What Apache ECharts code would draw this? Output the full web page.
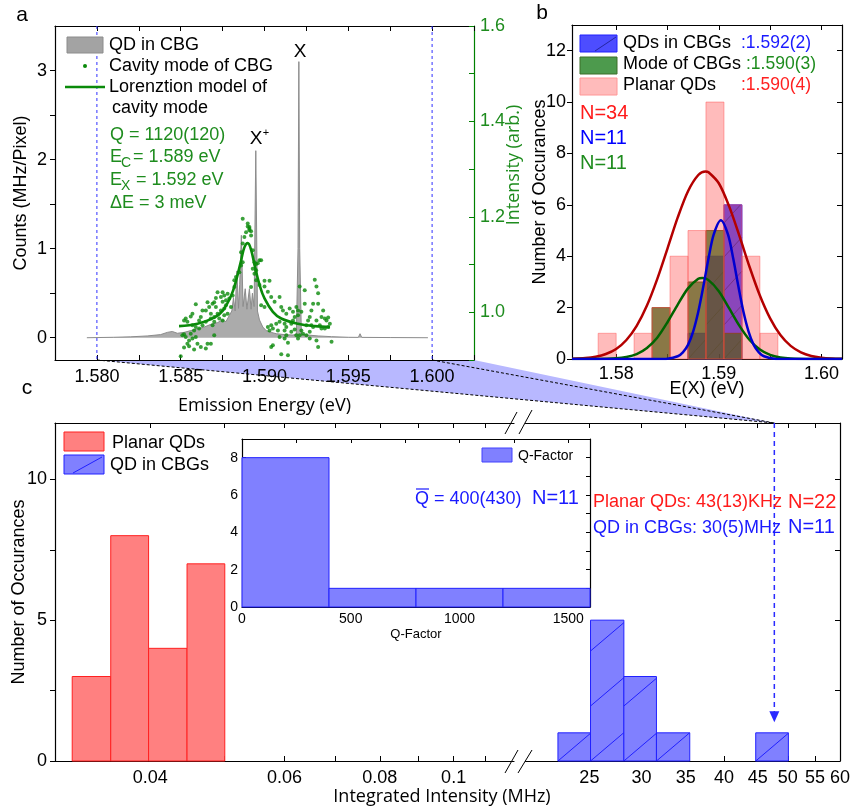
<!DOCTYPE html>
<html><head><meta charset="utf-8">
<script src="https://cdn.jsdelivr.net/npm/echarts@6/dist/echarts.min.js"></script>
<style>html,body{margin:0;padding:0;background:#fff}#c{width:852px;height:811px}</style>
</head><body><div id="c"></div>
<script>
// ---------------- DATA ----------------
// Panel a: QD spectrum (left axis, MHz/Pixel)
const specEnergy = [1.5794,1.5810,1.5820,1.5830,1.5838,1.5842,1.5845,1.5848,1.5852,1.5856,1.5860,1.5864,1.5868,1.5872,1.5875,1.5877,1.5879,1.58805,1.58815,1.58825,1.58835,1.58845,1.58852,1.58862,1.58872,1.58885,1.58895,1.58910,1.58920,1.58928,1.58938,1.58948,1.58958,1.5897,1.5899,1.5901,1.5904,1.5907,1.5912,1.5917,1.5919,1.59200,1.59205,1.59210,1.5922,1.5926,1.5932,1.5940,1.5950,1.5956,1.5957,1.5958,1.5975,1.59975];
const specCounts = [0,0.005,0.01,0.02,0.035,0.06,0.07,0.05,0.06,0.08,0.1,0.12,0.15,0.17,0.2,0.18,0.25,0.3,0.45,0.3,0.75,0.33,0.6,1.15,0.35,0.55,0.32,0.55,0.32,0.5,0.35,2.1,0.3,0.2,0.12,0.08,0.06,0.045,0.035,0.03,0.04,1.0,3.1,1.0,0.04,0.03,0.02,0.012,0.005,0.004,0.045,0.004,0.002,0];
// Panel a: cavity mode points [energy, intensity (arb.)]
const cavityPoints = [
[1.5887,1.196],[1.5890,1.186],[1.5891,1.175],[1.5892,1.170],[1.5889,1.168],[1.5888,1.158],[1.5887,1.144],[1.5886,1.126],[1.5887,1.105],[1.5886,1.098],[1.5885,1.084],[1.5883,1.074],[1.5882,1.067],[1.5893,1.091],[1.5894,1.081],[1.5892,1.053],[1.5895,1.067],[1.5882,1.053],[1.5881,1.035],[1.5878,1.039],[1.5876,1.035],[1.5875,1.042],[1.5874,1.032],[1.5872,1.042],[1.5871,1.030],[1.5870,1.021],[1.5869,1.018],[1.5867,1.011],[1.5865,1.004],[1.5862,0.990],[1.5859,1.017],[1.5857,0.997],[1.5856,0.991],[1.5853,0.987],[1.5852,0.983],[1.5854,0.980],[1.5857,0.973],[1.5859,0.969],[1.5861,0.966],[1.5863,0.973],[1.5865,0.980],[1.5868,0.987],[1.5870,0.990],[1.5872,0.997],[1.5874,1.004],[1.5876,1.008],[1.5877,1.015],[1.5875,1.022],[1.5877,1.025],[1.5879,1.029],[1.5880,1.011],[1.5878,0.997],[1.5876,0.994],[1.5875,0.983],[1.5873,0.987],[1.5870,0.980],[1.5869,0.973],[1.5870,0.952],[1.5868,0.934],[1.5866,0.934],[1.5865,0.924],[1.5862,0.927],[1.5860,0.934],[1.5859,0.948],[1.5857,0.945],[1.5855,0.941],[1.5853,0.948],[1.5852,0.954],[1.5851,0.952],[1.5854,0.934],[1.5852,0.926],[1.5855,0.929],[1.5858,0.922],[1.5850,0.908],[1.5856,0.955],[1.5858,0.962],[1.5868,0.997],[1.5863,1.004],[1.5861,0.983],[1.5866,1.021],[1.5871,1.011],
[1.5898,1.109],[1.5896,1.103],[1.5895,1.101],[1.5900,1.066],[1.5903,1.066],[1.5897,1.057],[1.5900,1.054],[1.5902,1.043],[1.5904,1.032],[1.5898,1.015],[1.5900,1.011],[1.5906,1.022],[1.5909,1.032],[1.5910,1.011],[1.5911,1.004],[1.5915,1.008],[1.5913,0.997],[1.5917,1.001],[1.5919,1.011],[1.5920,1.004],[1.5921,1.054],[1.5924,1.046],[1.5924,1.018],[1.5922,1.001],[1.5920,0.994],[1.5918,0.990],[1.5917,0.983],[1.5916,0.976],[1.5913,0.969],[1.5912,0.976],[1.5909,0.980],[1.5907,0.976],[1.5904,0.973],[1.5902,0.969],[1.5903,0.962],[1.5905,0.966],[1.5908,0.962],[1.5912,0.962],[1.5913,0.952],[1.5912,0.945],[1.5909,0.948],[1.5914,0.936],[1.5916,0.959],[1.5918,0.964],[1.5919,0.952],[1.5920,0.945],[1.5921,0.952],[1.5922,0.962],[1.5923,0.955],[1.5925,0.973],[1.5926,0.983],[1.5927,0.990],[1.5928,1.004],[1.5929,1.018],[1.5930,1.068],[1.5931,1.054],[1.5932,1.040],[1.5932,1.018],[1.5935,1.004],[1.5934,0.990],[1.5936,0.987],[1.5937,0.983],[1.5938,0.989],[1.5939,0.976],[1.5938,0.969],[1.5936,0.966],[1.5934,0.966],[1.5933,0.973],[1.5931,0.983],[1.5929,0.969],[1.5928,0.973],[1.5927,0.959],[1.5925,0.952],[1.5931,0.941],[1.5932,0.927],[1.5927,0.945],[1.5940,0.938],[1.5904,0.927],[1.5905,0.931],[1.5910,0.912],[1.5914,0.910],
[1.5894,1.105],[1.5895,1.088],[1.5897,1.109],[1.5893,1.130],[1.5891,1.172],[1.5892,1.161],[1.5890,1.180],[1.5891,1.179]
];
// Panel a: Lorentzian model of the cavity mode
const lorentzEnergy = [1.5849,1.5860,1.5870,1.5875,1.5880,1.5883,1.5886,1.5888,1.5890,1.5892,1.5894,1.5897,1.5900,1.5905,1.5910,1.5920,1.5930,1.5939];
const lorentzInt    = [0.971,0.976,0.989,1.003,1.034,1.066,1.108,1.136,1.145,1.131,1.100,1.058,1.029,1.001,0.987,0.976,0.971,0.969];
const aTickLabels = [1.580,1.585,1.590,1.595,1.600];
const zoomWindow = [1.580,1.600];

// Panel b: E(X) histograms
const eBinEdges = [1.57825,1.58,1.58175,1.5835,1.58525,1.587,1.58875,1.5905,1.59225,1.594,1.59575];
const planarE   = [1,0,1,2,4,5,10,6,4,1];
const cbgE      = [0,0,0,0,0,1,4,6,0,0];
const modeE     = [0,0,0,2,0,3,5,1,0,0];
// Panel b: Gaussian fits
const redFitE  = [1.5757,1.577,1.578,1.579,1.580,1.581,1.582,1.583,1.584,1.585,1.586,1.587,1.588,1.5887,1.589,1.590,1.591,1.592,1.593,1.594,1.595,1.596,1.597,1.598,1.599,1.600,1.601,1.602];
const redFitN  = [0.011,0.037,0.088,0.194,0.39,0.74,1.29,2.08,3.11,4.30,5.51,6.53,7.16,7.30,7.27,6.84,5.95,4.80,3.58,2.47,1.58,0.93,0.51,0.26,0.12,0.053,0.021,0.008];
const blueFitE = [1.5757,1.584,1.585,1.586,1.5865,1.587,1.5875,1.588,1.5885,1.589,1.5895,1.5902,1.5909,1.5914,1.5919,1.5924,1.5929,1.5934,1.5939,1.5944,1.5954,1.5964,1.602];
const blueFitN = [0,0.001,0.013,0.107,0.26,0.55,1.07,1.84,2.84,3.92,4.84,5.4,4.84,3.92,2.84,1.84,1.07,0.55,0.26,0.107,0.013,0.001,0];
const greenFitE = [1.5757,1.578,1.580,1.581,1.582,1.583,1.584,1.585,1.586,1.587,1.588,1.5884,1.589,1.590,1.591,1.592,1.593,1.594,1.595,1.596,1.597,1.599,1.602];
const greenFitN = [0,0.002,0.025,0.074,0.19,0.43,0.83,1.43,2.12,2.75,3.12,3.15,3.07,2.64,1.98,1.30,0.74,0.37,0.16,0.06,0.02,0.002,0];

// Panel c: integrated intensity histograms
const planarEdges  = [0.0316,0.0355,0.0398,0.0447,0.0501];
const planarCounts = [3,8,4,7];
const cbgEdges     = [22.4,25.1,28.2,31.6,35.5,39.8,44.7,50.1];
const cbgCounts    = [1,5,3,1,0,0,1];
const leftTicks  = [0.04,0.06,0.08,0.1];
const rightTicks = [25,30,35,40,45,50,55,60];
// Inset: Q-factor histogram
const qEdges  = [0,400,800,1200,1600];
const qCounts = [8,1,1,1];
const arrowTarget = 47.7;

// ---------------- HELPERS ----------------
const FONT = "'Liberation Sans', Arial, Helvetica, sans-serif";
const FONT2 = "'Open Sans', 'DejaVu Sans', sans-serif";
function bins(edges, counts){ return counts.map((n,i)=>[edges[i],edges[i+1],n]); }
function pairs(xs, ys){ return xs.map((x,i)=>[x,ys[i]]); }
function hatchLines(x0,yTop,x1,yBot,slope,spacing,color,w){
  const out=[]; const n=Math.ceil(((yBot-yTop)+slope*(x1-x0))/spacing)+1;
  for(let j=0;j<n;j++){
    const c=yBot-j*spacing+slope*x0;
    const xa=Math.max(x0,(c-yBot)/slope), xb=Math.min(x1,(c-yTop)/slope);
    if(xb-xa>0.5) out.push({type:'line',shape:{x1:xa,y1:c-slope*xa,x2:xb,y2:c-slope*xb},style:{stroke:color,lineWidth:w}});
  }
  return out;
}
function histRender(fill, stroke, hatch){
  return function(params, api){
    const x0=api.value(0), x1=api.value(1), n=api.value(2);
    if(!n) return null;
    const p0=api.coord([x0,n]), p1=api.coord([x1,0]);
    const ch=[{type:'rect',shape:{x:p0[0],y:p0[1],width:p1[0]-p0[0],height:p1[1]-p0[1]},style:{fill:fill,stroke:stroke,lineWidth:1}}];
    if(hatch) hatchLines(p0[0],p0[1],p1[0],p1[1],hatch.slope,hatch.spacing,hatch.color,1).forEach(l=>ch.push(l));
    return {type:'group',children:ch};
  };
}
const AX = {
  type:'value', splitLine:{show:false}, nameMoveOverlap:false,
  axisLine:{show:true,onZero:false,lineStyle:{color:'#000',width:1.2}},
  axisTick:{show:true,inside:true,length:5,lineStyle:{color:'#000',width:1}},
  axisLabel:{show:true,color:'#000',fontSize:18,fontFamily:FONT,margin:8,hideOverlap:false},
  nameTextStyle:{color:'#000',fontSize:18,fontFamily:FONT}
};
function mk(o){
  const r=Object.assign({},AX);
  for(const k in o){
    if(o[k]&&typeof o[k]==='object'&&!Array.isArray(o[k])&&AX[k]&&typeof AX[k]==='object') r[k]=Object.assign({},AX[k],o[k]);
    else r[k]=o[k];
  }
  return r;
}
const noLab={show:false};
const fmtLog = v => String(parseFloat(Number(v).toPrecision(3)));

const GREEN='#1e8c1e';
const aTicks=[1.5775,1.58,1.5825,1.585,1.5875,1.59,1.5925,1.595,1.5975,1.6,1.6025];
const bTicks=[1.58,1.585,1.59,1.595,1.60];
const cLeftTickVals=[0.04,0.05,0.06,0.07,0.08,0.09,0.1,0.11];

const option = {
  animation:false, backgroundColor:'#fff', textStyle:{fontFamily:FONT},
  grid:[
    {left:55,top:26,width:419,height:334,containLabel:false,outerBoundsMode:'none'},
    {left:572,top:25,width:270,height:334,containLabel:false,outerBoundsMode:'none'},
    {left:55,top:423,width:459,height:338,containLabel:false,outerBoundsMode:'none'},
    {left:525.5,top:423,width:314.5,height:338,containLabel:false,outerBoundsMode:'none'},
    {left:242,top:439,width:348,height:168,containLabel:false,outerBoundsMode:'none',show:true,backgroundColor:'#fff',borderWidth:0}
  ],
  xAxis:[
    mk({gridIndex:0,position:'bottom',min:1.5775,max:1.6025,interval:0.0025,
        axisLabel:{customValues:aTickLabels,formatter:v=>Number(v).toFixed(3)},axisTick:{customValues:aTicks},
        name:'Emission Energy (eV)',nameLocation:'middle',nameGap:37,nameTextStyle:{fontFamily:FONT2,fontSize:18,color:'#000'}}),
    mk({gridIndex:0,position:'top',min:1.5775,max:1.6025,interval:0.0025,axisLabel:noLab,axisTick:{customValues:aTicks}}),
    mk({gridIndex:1,position:'bottom',min:1.5757,max:1.602,
        axisLabel:{customValues:[1.58,1.59,1.60],formatter:v=>Number(v).toFixed(2),margin:6},axisTick:{customValues:bTicks},
        name:'E(X) (eV)',nameLocation:'middle',nameGap:21}),
    mk({gridIndex:1,position:'top',min:1.5757,max:1.602,axisLabel:noLab,axisTick:{customValues:bTicks}}),
    mk({gridIndex:2,type:'log',logBase:10,position:'bottom',min:0.03,max:0.12,
        axisLabel:{customValues:leftTicks,formatter:fmtLog},axisTick:{customValues:cLeftTickVals}}),
    mk({gridIndex:2,type:'log',logBase:10,position:'top',min:0.03,max:0.12,axisLabel:noLab,axisTick:{customValues:cLeftTickVals}}),
    mk({gridIndex:3,type:'log',logBase:10,position:'bottom',min:20,max:60,
        axisLabel:{customValues:rightTicks,formatter:fmtLog},axisTick:{customValues:rightTicks}}),
    mk({gridIndex:3,type:'log',logBase:10,position:'top',min:20,max:60,axisLabel:noLab,axisTick:{customValues:rightTicks}}),
    mk({gridIndex:4,position:'bottom',min:0,max:1600,interval:250,
        axisLabel:{customValues:[0,500,1000,1500],fontSize:14,margin:5,formatter:v=>String(v)},axisTick:{length:4},
        name:'Q-Factor',nameLocation:'middle',nameGap:21,nameTextStyle:{fontSize:13}}),
    mk({gridIndex:4,position:'top',min:0,max:1600,interval:250,axisLabel:noLab,axisTick:{length:4}})
  ],
  yAxis:[
    mk({gridIndex:0,position:'left',min:-0.25,max:3.5,interval:0.25,
        axisLabel:{customValues:[0,1,2,3]},axisTick:{inside:false,customValues:[0,0.5,1,1.5,2,2.5,3]},
        name:'Counts (MHz/Pixel)',nameLocation:'middle',nameGap:25}),
    mk({gridIndex:0,position:'right',min:0.9,max:1.6,interval:0.1,
        axisLine:{lineStyle:{color:'#008000',width:1.2}},axisTick:{lineStyle:{color:'#008000'}},
        axisLabel:{customValues:[1.0,1.2,1.4,1.6],formatter:v=>Number(v).toFixed(1),color:GREEN,margin:6}}),
    mk({gridIndex:1,position:'left',min:0,max:13,interval:1,
        axisLabel:{customValues:[0,2,4,6,8,10,12],margin:6},axisTick:{inside:false,customValues:[0,2,4,6,8,10,12]},
        name:'Number of Occurances',nameLocation:'middle',nameGap:23}),
    mk({gridIndex:1,position:'right',min:0,max:13,interval:1,axisLabel:noLab,axisTick:{customValues:[0,2,4,6,8,10,12]}}),
    mk({gridIndex:2,position:'left',min:0,max:12,interval:2.5,
        axisLabel:{customValues:[0,5,10]},axisTick:{inside:false,customValues:[0,2.5,5,7.5,10]},
        name:'Number of Occurances',nameLocation:'middle',nameGap:27}),
    mk({gridIndex:3,position:'right',min:0,max:12,interval:2.5,axisLabel:noLab,axisTick:{customValues:[0,2.5,5,7.5,10]}}),
    mk({gridIndex:4,position:'left',min:0,max:9,interval:1,
        axisLabel:{customValues:[0,2,4,6,8],fontSize:14,margin:4},axisTick:{length:4,customValues:[0,1,2,3,4,5,6,7,8]}}),
    mk({gridIndex:4,position:'right',min:0,max:9,interval:1,axisLabel:noLab,axisTick:{length:4,customValues:[0,1,2,3,4,5,6,7,8]}})
  ],
  series:[
    {type:'line',xAxisIndex:0,yAxisIndex:0,data:pairs(specEnergy,specCounts),showSymbol:false,symbol:'none',
     lineStyle:{color:'#8c8c8c',width:1},areaStyle:{color:'#ababab',opacity:1},z:2},
    {type:'scatter',xAxisIndex:0,yAxisIndex:1,data:cavityPoints,symbol:'circle',symbolSize:4,itemStyle:{color:'#0a8a0a'},z:3},
    {type:'line',xAxisIndex:0,yAxisIndex:1,data:pairs(lorentzEnergy,lorentzInt),smooth:0.4,showSymbol:false,symbol:'none',
     lineStyle:{color:'#0a8a0a',width:2.6},z:4},
    // panel b histograms
    {type:'custom',xAxisIndex:2,yAxisIndex:2,data:bins(eBinEdges,cbgE),encode:{x:[0,1],y:2},
     renderItem:histRender('rgba(0,0,255,0.7)','#2020ff',{slope:1.1,spacing:34,color:'rgba(20,20,120,0.6)'}),z:2},
    {type:'custom',xAxisIndex:2,yAxisIndex:2,data:bins(eBinEdges,modeE),encode:{x:[0,1],y:2},
     renderItem:histRender('rgba(0,110,0,0.7)','rgba(80,70,0,0.8)',null),z:2},
    {type:'custom',xAxisIndex:2,yAxisIndex:2,data:bins(eBinEdges,planarE),encode:{x:[0,1],y:2},
     renderItem:histRender('rgba(255,60,60,0.35)','rgba(255,90,90,0.5)',null),z:2},
    {type:'line',xAxisIndex:2,yAxisIndex:2,data:pairs(redFitE,redFitN),smooth:0.3,showSymbol:false,symbol:'none',lineStyle:{color:'#b40000',width:2.5},z:4},
    {type:'line',xAxisIndex:2,yAxisIndex:2,data:pairs(greenFitE,greenFitN),smooth:0.3,showSymbol:false,symbol:'none',lineStyle:{color:'#006400',width:2.5},z:4},
    {type:'line',xAxisIndex:2,yAxisIndex:2,data:pairs(blueFitE,blueFitN),smooth:0.3,showSymbol:false,symbol:'none',lineStyle:{color:'#0000d0',width:2.5},z:4},
    // panel c
    {type:'custom',xAxisIndex:4,yAxisIndex:4,data:bins(planarEdges,planarCounts),encode:{x:[0,1],y:2},
     renderItem:histRender('#ff8080','#ff2020',null),z:2},
    {type:'custom',xAxisIndex:6,yAxisIndex:5,data:bins(cbgEdges,cbgCounts),encode:{x:[0,1],y:2},
     renderItem:histRender('#8080ff','#2020ff',{slope:0.85,spacing:55,color:'#2020ff'}),z:2},
    // inset
    {type:'custom',xAxisIndex:8,yAxisIndex:6,data:bins(qEdges,qCounts),encode:{x:[0,1],y:2},
     renderItem:histRender('#8080ff','#2020ff',null),z:6}
  ]
};

const chart = echarts.init(document.getElementById('c'), null, {renderer:'canvas'});
chart.setOption(option);

// ---------------- ANNOTATIONS ----------------
function T(x,y,text,o){
  o=o||{};
  return {type:'text',x:x,y:y,rotation:o.rot||0,z:o.z||20,silent:true,
    style:{text:text,fill:o.color||'#000',fontSize:o.size||18,fontFamily:o.font||FONT,
      textAlign:o.align||'left',align:o.align||'left',textVerticalAlign:'middle',verticalAlign:'middle'}};
}
function R(x,y,w,h,fill,stroke){return {type:'rect',z:20,silent:true,shape:{x:x,y:y,width:w,height:h},style:{fill:fill,stroke:stroke,lineWidth:1}};}
function L(x1,y1,x2,y2,stroke,w,dash,z){return {type:'line',z:z||20,silent:true,shape:{x1:x1,y1:y1,x2:x2,y2:y2},style:{stroke:stroke,lineWidth:w||1,lineDash:dash||null}};}

const pa0 = chart.convertToPixel({xAxisIndex:0,yAxisIndex:0},[zoomWindow[0],-0.25]);
const pa1 = chart.convertToPixel({xAxisIndex:0,yAxisIndex:0},[zoomWindow[1],-0.25]);
const pa0t = chart.convertToPixel({xAxisIndex:0,yAxisIndex:0},[zoomWindow[0],3.5]);
const pa1t = chart.convertToPixel({xAxisIndex:0,yAxisIndex:0},[zoomWindow[1],3.5]);
const paR = chart.convertToPixel({xAxisIndex:0,yAxisIndex:0},[1.6025,-0.25]);
const pcTop = chart.convertToPixel({xAxisIndex:6,yAxisIndex:5},[arrowTarget,12]);
const pcTip = chart.convertToPixel({xAxisIndex:6,yAxisIndex:5},[arrowTarget,1.38]);

const G = [];
// zoom window markers in panel a
G.push(L(pa0t[0],pa0t[1],pa0[0],pa0[1],'#3030ff',1,[3,3],10));
G.push(L(pa1t[0],pa1t[1],pa1[0],pa1[1],'#3030ff',1,[3,3],10));
// zoom wedge between a and c
G.push({type:'polygon',z:-1,silent:true,shape:{points:[[pa0[0],pa0[1]],[paR[0],paR[1]],[pcTop[0],pcTop[1]]]},style:{fill:'#b8b8ff'}});
G.push(L(pa0[0],pa0[1],pcTop[0],pcTop[1],'#000',1,[3,2],1));
G.push(L(pa1[0],pa1[1],pcTop[0],pcTop[1],'#000',1,[3,2],1));
// arrow in c
G.push(L(pcTop[0],pcTop[1],pcTop[0],pcTip[1]-9,'#2a2aff',1.5,[5,4]));
G.push({type:'polygon',z:20,silent:true,shape:{points:[[pcTop[0]-5,pcTip[1]-11],[pcTop[0]+5,pcTip[1]-11],[pcTop[0],pcTip[1]]]},style:{fill:'#2a2aff'}});
// panel letters
G.push(T(22,15,'a',{size:21,align:'center'}));
G.push(T(542,13,'b',{size:21,align:'center'}));
G.push(T(27,388,'c',{size:21,align:'center'}));
// panel a legend
G.push(R(67,37,36,16,'#a3a3a3','#8c8c8c'));
G.push(T(109,45,'QD in CBG'));
G.push({type:'circle',z:20,silent:true,shape:{cx:85,cy:66,r:2},style:{fill:'#0a8a0a'}});
G.push(T(109,66,'Cavity mode of CBG'));
G.push(L(65,87,105,87,'#0a8a0a',2.6));
G.push(T(109,87,'Lorenztion model of'));
G.push(T(112,108,'cavity mode'));
G.push(T(110,135,'Q = 1120(120)',{color:GREEN}));
G.push(T(110,157,'E',{color:GREEN}));
G.push(T(121,163,'C',{color:GREEN,size:14}));
G.push(T(133,157,'= 1.589 eV',{color:GREEN}));
G.push(T(110,180,'E',{color:GREEN}));
G.push(T(121,186,'X',{color:GREEN,size:14}));
G.push(T(136,180,'= 1.592 eV',{color:GREEN}));
G.push(T(110,203,'\u0394E = 3 meV',{color:GREEN}));
G.push(T(300,52,'X',{size:19,align:'center'}));
G.push(T(256,139,'X',{size:19,align:'center'}));
G.push(T(266,133,'+',{size:11,align:'center'}));
G.push(T(514,165,'Intensity (arb.)',{rot:Math.PI/2,color:GREEN,font:FONT2,size:18,align:'center'}));
// panel b legend
G.push(R(580,35,37,17,'rgb(77,77,255)','#2020ff'));
G.push(L(595,51,616,37,'rgba(20,20,120,0.7)',1));
G.push(T(623,43.5,'QDs in CBGs'));
G.push(T(741,43.5,':1.592(2)',{color:'#1a1aff',size:17.5}));
G.push(R(580,57,37,17,'rgb(77,154,77)','rgb(60,110,40)'));
G.push(T(623,64.5,'Mode of CBGs'));
G.push(T(746,64.5,':1.590(3)',{color:GREEN,size:17.5}));
G.push(R(580,78,37,17,'rgb(255,187,187)','rgb(255,150,150)'));
G.push(T(623,85.5,'Planar QDs'));
G.push(T(741,85.5,':1.590(4)',{color:'#ff2020',size:17.5}));
G.push(T(580,113,'N=34',{color:'#ff1a1a',size:20}));
G.push(T(580,138,'N=11',{color:'#0000ff',size:20}));
G.push(T(580,163,'N=11',{color:GREEN,size:20}));
// panel c legend & texts
G.push(R(64,432,40,19,'#ff8080','#ff2020'));
G.push(T(112,443,'Planar QDs'));
G.push(R(64,455,40,19,'#8080ff','#2020ff'));
G.push(L(73,473,102,457,'#2020ff',1));
G.push(T(110,465,'QD in CBGs'));
G.push(T(593,502,'Planar QDs: 43(13)KHz',{color:'#ff1a1a',size:18}));
G.push(T(788,502,'N=22',{color:'#ff1a1a',size:20}));
G.push(T(593,528,'QD in CBGs: 30(5)MHz',{color:'#1a1aff',size:18}));
G.push(T(788,527,'N=11',{color:'#1a1aff',size:20}));
G.push(T(442,797,'Integrated Intensity (MHz)',{font:FONT2,size:18,align:'center'}));
// axis break marks
G.push(L(505,434,517,412,'#000',1)); G.push(L(519,434,532,410,'#000',1));
G.push(L(505,773,518,750,'#000',1)); G.push(L(518,773,532,750,'#000',1));
// inset legend & text
G.push(R(482,448,30,14,'#8080ff','#4040ff'));
G.push(T(518,456,'Q-Factor',{size:14}));
G.push(T(415,499,'Q = 400(430)',{color:'#1a1aff',size:18}));
G.push(L(416,489,429,489,'#1a1aff',1.2));
G.push(T(532,498,'N=11',{color:'#1a1aff',size:20}));

chart.setOption({graphic:G});
</script>
</body></html>
